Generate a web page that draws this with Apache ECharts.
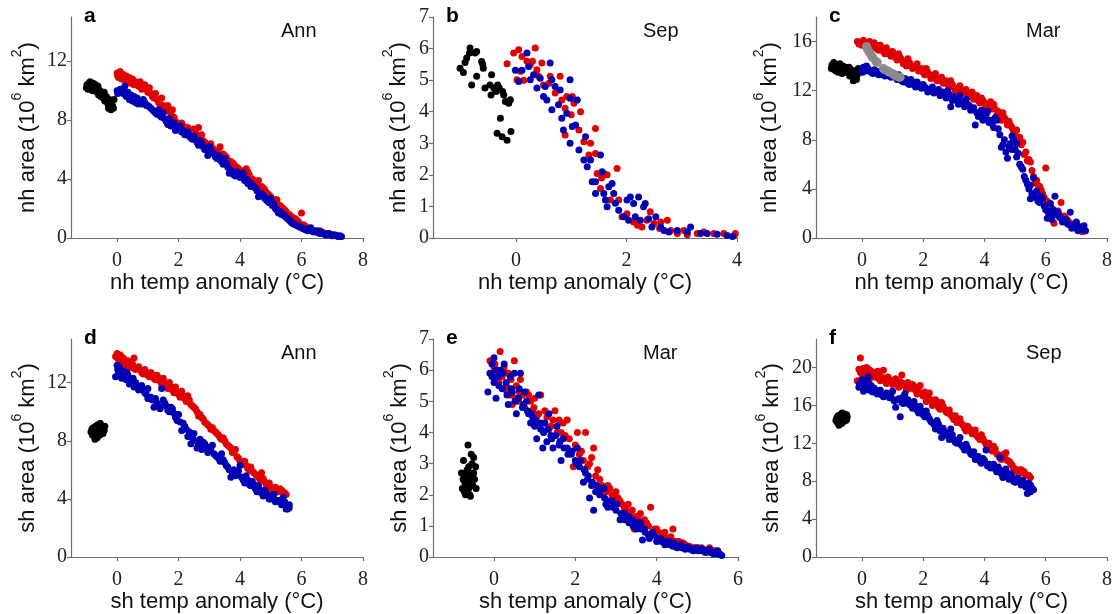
<!DOCTYPE html>
<html>
<head>
<meta charset="utf-8">
<script src="https://cdn.jsdelivr.net/npm/echarts@6/dist/echarts.min.js"></script>
<style>
html,body{margin:0;padding:0;background:#fff;}
#chart{width:1115px;height:614px;}
</style>
</head>
<body>
<div id="chart"></div>
<script>
// ---------- tick labels ----------
const ticksX8 = [0, 2, 4, 6, 8];
const ticksX4 = [0, 2, 4];
const ticksX6 = [0, 2, 4, 6];
const ticksY15 = [0, 4, 8, 12];
const ticksY7 = [0, 1, 2, 3, 4, 5, 6, 7];
const ticksY18 = [0, 4, 8, 12, 16];
const ticksY23 = [0, 4, 8, 12, 16, 20];

const panelLetters = ['a', 'b', 'c', 'd', 'e', 'f'];
const panelMonths = ['Ann', 'Sep', 'Mar', 'Ann', 'Mar', 'Sep'];
const hemis = ['nh', 'nh', 'nh', 'sh', 'sh', 'sh'];

// ---------- panel a : nh Ann ----------
const aBlack = [[-1.0,10.2],[-0.98,10.4],[-0.95,10.1],[-0.92,10.5],[-0.9,10.3],[-0.88,10.6],[-0.85,10.2],[-0.82,10.4],[-0.8,10.0],[-0.78,10.5],[-0.75,10.3],[-0.72,10.1],[-0.7,10.4],[-0.68,10.2],[-0.65,9.9],[-0.62,10.3],[-0.6,9.7],[-0.55,10.0],[-0.52,9.6],[-0.5,9.8],[-0.45,9.5],[-0.42,9.9],[-0.4,9.3],[-0.35,9.6],[-0.3,9.1],[-0.28,8.8],[-0.25,9.4],[-0.2,8.7],[-0.18,9.2],[-0.15,9.0],[-0.12,8.8],[-0.1,9.4]];
const aRed = [[0.0,11.2],[0.05,10.9],[0.1,11.3],[0.15,10.8],[0.2,11.1],[0.25,10.7],[0.3,11.0],[0.35,10.6],[0.4,10.9],[0.45,10.5],[0.5,10.8],[0.55,10.4],[0.6,10.6],[0.7,10.3],[0.75,10.6],[0.8,10.1],[0.9,10.4],[1.0,9.9],[1.05,10.2],[1.15,9.6],[1.25,9.8],[1.35,9.2],[1.45,9.5],[1.55,8.8],[1.65,9.0],[1.75,8.4],[1.8,8.7],[1.9,7.9],[2.0,7.6],[2.1,7.8],[2.2,7.3],[2.3,7.5],[2.4,7.0],[2.5,7.4],[2.6,6.9],[2.65,7.5],[2.75,7.0],[2.85,6.5],[2.95,6.2],[3.05,6.4],[3.15,6.0],[3.25,5.9],[3.35,6.2],[3.45,5.7],[3.55,5.5],[3.7,5.2],[3.8,5.0],[3.9,4.8],[4.0,4.6],[4.1,4.5],[4.2,4.7],[4.3,4.3],[4.4,4.0],[4.5,3.8],[4.6,3.9],[4.7,3.5],[4.8,3.3],[4.9,3.0],[5.0,2.8],[5.1,2.5],[5.2,2.6],[5.3,2.2],[5.4,2.0],[5.5,1.8],[5.6,1.6],[5.7,1.4],[5.8,1.3],[5.9,1.1],[6.0,1.7],[6.05,0.9],[6.2,0.7],[6.3,0.6],[6.4,0.5],[6.5,0.4],[6.6,0.5],[6.75,0.3],[6.9,0.25],[7.0,0.2],[7.1,0.15],[7.2,0.1],
  [0.02,11.0],[0.12,10.9],[0.22,10.8],[0.32,10.9],[0.42,10.6],[0.52,10.5],[0.62,10.4],[0.72,10.5],[0.82,10.3],[0.95,10.1],[1.1,9.8],[1.2,9.5],[1.3,9.4],[1.4,9.1],[1.5,9.0],[1.6,8.7],[1.7,8.6],[1.85,8.2],[1.95,7.8],[2.15,7.6],[2.35,7.2],[2.45,7.1],[2.55,7.2],[2.7,6.8],[2.8,6.6],[2.9,6.4],[3.1,6.1],[3.3,5.8],[3.5,5.6],[3.6,5.3],[3.75,5.1],[3.95,4.7],[4.15,4.3],[4.25,4.5],[4.45,3.9],[4.55,3.7],[4.75,3.4],[4.85,3.1],[4.95,2.9],[5.15,2.6],[5.35,2.1],[5.45,1.9],[5.65,1.5],[5.75,1.3],[5.85,1.2],[6.1,0.85],[6.35,0.55],[6.55,0.45],[6.85,0.3],[7.05,0.2]];
const aBlue = [[0.0,10.0],[0.05,9.9],[0.1,10.1],[0.2,9.8],[0.25,10.3],[0.3,9.6],[0.35,9.9],[0.4,9.4],[0.45,9.7],[0.5,9.3],[0.55,9.6],[0.6,9.2],[0.65,9.5],[0.7,9.3],[0.8,9.1],[0.85,9.4],[0.9,9.2],[1.0,9.0],[1.1,8.8],[1.2,8.6],[1.3,8.4],[1.35,8.7],[1.45,8.2],[1.5,8.5],[1.6,7.9],[1.7,8.1],[1.75,7.6],[1.85,7.8],[1.95,7.5],[2.05,7.6],[2.15,7.3],[2.2,7.0],[2.3,7.2],[2.4,6.8],[2.5,6.9],[2.6,6.5],[2.7,6.6],[2.8,6.2],[2.9,6.0],[2.95,5.6],[3.0,6.2],[3.1,5.8],[3.2,5.5],[3.3,5.6],[3.4,5.2],[3.5,5.4],[3.6,4.8],[3.65,4.4],[3.7,4.6],[3.8,4.3],[3.9,4.5],[4.0,4.1],[4.1,4.4],[4.2,4.0],[4.3,3.8],[4.4,3.6],[4.5,3.4],[4.6,2.8],[4.7,3.0],[4.8,2.7],[4.9,2.5],[5.0,2.7],[5.05,2.2],[5.15,2.0],[5.3,1.8],[5.4,1.6],[5.5,1.4],[5.6,1.2],[5.7,1.0],[5.8,0.9],[5.9,0.8],[6.0,0.7],[6.1,0.6],[6.2,0.5],[6.3,0.7],[6.4,0.4],[6.5,0.5],[6.6,0.3],[6.7,0.35],[6.8,0.2],[6.9,0.3],[7.0,0.15],[7.1,0.2],[7.2,0.1],[7.3,0.1],
  [0.02,9.8],[0.12,9.9],[0.18,10.0],[0.28,9.7],[0.38,9.6],[0.48,9.5],[0.58,9.4],[0.68,9.1],[0.75,9.3],[0.95,9.0],[1.05,8.9],[1.15,8.7],[1.25,8.5],[1.4,8.3],[1.55,8.1],[1.65,7.7],[1.8,7.7],[1.9,7.3],[2.0,7.5],[2.1,7.2],[2.25,7.1],[2.35,6.9],[2.45,6.7],[2.55,6.7],[2.65,6.3],[2.75,6.4],[2.85,6.0],[3.05,5.9],[3.15,5.7],[3.25,5.4],[3.35,5.3],[3.45,5.0],[3.55,5.1],[3.75,4.5],[3.85,4.2],[3.95,4.3],[4.05,4.2],[4.15,3.9],[4.25,3.7],[4.35,3.5],[4.45,3.5],[4.55,3.2],[4.65,3.0],[4.75,2.9],[4.85,2.6],[4.95,2.4],[5.1,2.3],[5.2,1.9],[5.25,1.7],[5.35,1.6],[5.45,1.5],[5.55,1.3],[5.65,1.1],[5.75,0.95],[5.85,0.85],[5.95,0.75],[6.05,0.65],[6.15,0.55],[6.25,0.6],[6.35,0.45],[6.45,0.45],[6.55,0.35],[6.65,0.4],[6.75,0.25],[6.85,0.25],[6.95,0.2],[7.05,0.2],[7.15,0.15],[7.25,0.15]];

// ---------- panel b : nh Sep ----------
const bBlack = [[-1.01,5.38],[-0.95,5.24],[-0.92,5.56],[-0.89,5.7],[-0.84,5.86],[-0.83,6.02],[-0.8,4.85],[-0.74,5.86],[-0.71,5.91],[-0.71,5.12],[-0.62,5.59],[-0.59,5.38],[-0.56,4.75],[-0.6,5.5],[-0.47,4.85],[-0.45,4.53],[-0.44,5.17],[-0.4,4.75],[-0.36,4.64],[-0.33,4.85],[-0.3,4.75],[-0.28,3.79],[-0.34,3.32],[-0.25,3.21],[-0.24,4.64],[-0.22,4.53],[-0.19,4.32],[-0.16,3.1],[-0.1,4.38],[-0.09,3.37],[-0.13,4.27]];
const bRed = [[-0.16,5.52],[-0.04,5.86],[0.02,5.01],[0.05,5.96],[0.08,5.28],[0.11,5.75],[0.14,5.0],[0.2,5.6],[0.26,5.49],[0.35,6.02],[0.38,5.33],[0.41,5.12],[0.47,5.54],[0.5,4.85],[0.62,5.12],[0.71,4.59],[0.8,5.12],[0.83,4.37],[0.89,4.11],[0.92,4.48],[0.89,3.26],[1.02,4.48],[1.05,4.27],[1.17,4.0],[1.14,3.42],[1.23,3.05],[1.32,2.63],[1.35,3.0],[1.44,3.47],[1.44,2.68],[1.47,2.04],[1.53,1.57],[1.59,2.04],[1.65,2.0],[1.83,2.2],[1.71,1.2],[1.86,1.2],[1.92,0.67],[2.01,0.77],[2.13,0.51],[2.28,0.35],[2.37,0.56],[2.43,0.83],[2.5,0.46],[2.62,0.51],[2.74,0.56],[2.8,0.24],[2.92,0.14],[3.04,0.24],[3.28,0.14],[3.4,0.19],[3.58,0.14],[3.76,0.14],[3.95,0.08],[3.97,0.14],[0.3,5.6],[0.6,4.9],[1.0,3.9],[1.55,1.9],[2.2,0.4],[2.6,0.3],[3.1,0.1]];
const bBlue = [[-0.01,5.31],[0.05,4.96],[0.11,5.31],[0.2,5.86],[0.23,5.43],[0.26,5.01],[0.32,5.17],[0.38,4.75],[0.44,5.06],[0.5,4.48],[0.53,4.8],[0.56,4.37],[0.62,5.54],[0.65,4.06],[0.65,5.01],[0.71,4.8],[0.77,4.22],[0.8,4.69],[0.83,3.79],[0.86,3.42],[0.92,3.95],[0.98,5.01],[0.98,4.43],[1.02,3.53],[1.08,3.58],[1.11,4.37],[0.98,3.0],[1.14,2.79],[1.23,2.47],[1.26,3.21],[1.29,2.26],[1.35,2.47],[1.38,1.78],[1.44,1.78],[1.44,1.41],[1.53,2.63],[1.56,2.1],[1.59,1.41],[1.62,1.2],[1.65,0.99],[1.68,1.62],[1.74,1.73],[1.77,1.41],[1.8,1.1],[1.86,0.88],[1.95,0.67],[2.01,1.2],[2.04,0.56],[2.07,1.3],[2.13,1.09],[2.16,0.67],[2.22,1.3],[2.25,0.56],[2.31,0.99],[2.34,1.09],[2.4,0.61],[2.46,0.35],[2.53,0.67],[2.62,0.35],[2.68,0.24],[2.77,0.19],[2.92,0.24],[3.1,0.19],[3.16,0.35],[3.34,0.14],[3.46,0.14],[3.64,0.12],[3.82,0.08],[3.92,0.05]];

// ---------- panel c : nh Mar ----------
const cBlack = [[-1.0,13.8],[-0.98,14.1],[-0.95,13.9],[-0.92,14.3],[-0.9,13.7],[-0.88,14.0],[-0.85,13.6],[-0.82,14.1],[-0.8,13.8],[-0.78,13.5],[-0.75,13.9],[-0.72,14.2],[-0.7,13.6],[-0.68,13.8],[-0.65,13.4],[-0.62,14.0],[-0.6,13.7],[-0.55,13.9],[-0.52,13.5],[-0.5,13.8],[-0.45,13.6],[-0.42,13.9],[-0.4,13.2],[-0.35,13.7],[-0.3,13.4],[-0.28,12.8],[-0.25,13.6],[-0.2,13.0],[-0.18,12.9],[-0.15,13.3],[-0.12,13.8]];
const cRed = [[-0.15,16.0],[-0.05,15.9],[0.05,16.1],[0.15,15.8],[0.25,16.0],[0.3,15.6],[0.4,15.9],[0.5,15.4],[0.6,15.7],[0.7,15.2],[0.8,15.5],[0.9,15.0],[1.0,15.2],[1.1,14.7],[1.2,15.0],[1.3,14.5],[1.4,14.3],[1.5,14.6],[1.6,14.1],[1.7,13.9],[1.8,14.2],[1.9,13.7],[2.0,13.5],[2.1,13.8],[2.2,13.3],[2.3,13.1],[2.4,13.4],[2.5,12.9],[2.6,13.1],[2.7,12.7],[2.8,12.5],[2.9,12.8],[3.0,12.3],[3.1,12.1],[3.2,12.4],[3.3,11.9],[3.4,12.1],[3.5,11.7],[3.6,11.9],[3.7,11.5],[3.8,11.2],[3.9,11.4],[4.0,11.0],[4.1,10.8],[4.2,11.1],[4.25,10.5],[4.3,10.9],[4.4,10.0],[4.5,9.8],[4.6,10.2],[4.7,9.6],[4.75,9.2],[4.8,9.5],[4.9,9.0],[5.0,8.4],[5.05,8.8],[5.1,8.0],[5.2,7.6],[5.25,7.8],[5.3,6.8],[5.4,6.3],[5.5,6.2],[5.6,5.0],[5.65,4.5],[5.7,4.7],[5.8,4.2],[5.9,3.6],[6.0,5.7],[6.05,3.0],[6.1,2.8],[6.2,2.4],[6.3,2.0],[6.4,2.2],[6.5,2.9],[6.6,1.8],[6.7,1.5],[6.8,1.2],[6.9,1.0],[7.0,0.8],[7.1,0.9],[7.2,0.5],[6.27,1.2],
  [-0.1,15.8],[0.0,15.7],[0.1,15.9],[0.2,15.7],[0.35,15.5],[0.45,15.7],[0.55,15.3],[0.65,15.4],[0.75,15.0],[0.85,15.2],[0.95,14.8],[1.05,14.9],[1.15,14.5],[1.25,14.7],[1.35,14.2],[1.45,14.0],[1.55,14.3],[1.65,13.8],[1.75,14.0],[1.85,13.6],[1.95,13.8],[2.05,13.3],[2.15,13.5],[2.25,13.0],[2.35,13.2],[2.45,12.8],[2.55,13.0],[2.65,12.6],[2.75,12.8],[2.85,12.3],[2.95,12.5],[3.05,12.0],[3.15,12.2],[3.25,11.8],[3.35,12.0],[3.45,11.6],[3.55,11.5],[3.65,11.3],[3.75,11.6],[3.85,11.0],[3.95,11.2],[4.05,10.7],[4.15,10.9],[4.35,10.5],[4.45,10.3],[4.55,9.6],[4.65,9.8],[4.85,9.2],[4.95,8.7],[5.15,8.2],[5.35,7.0],[5.45,6.4],[5.55,5.5],[5.75,4.3],[5.85,3.9],[5.95,3.3],[6.15,2.6],[6.25,2.2],[6.45,1.9],[6.55,1.6],[6.65,1.6],[6.75,1.3],[6.85,1.1],[6.95,0.9],[7.05,1.0],[7.15,0.6]];
const cBlue = [[0.0,13.7],[0.05,13.9],[0.1,13.6],[0.15,14.0],[0.2,13.8],[0.3,13.5],[0.4,13.7],[0.5,13.4],[0.6,13.6],[0.7,13.3],[0.8,13.5],[0.9,13.2],[1.0,13.4],[1.1,13.1],[1.2,13.3],[1.3,12.8],[1.4,13.0],[1.5,12.6],[1.6,12.9],[1.7,12.5],[1.8,12.7],[1.9,12.3],[2.0,12.5],[2.1,12.2],[2.2,12.0],[2.3,12.3],[2.4,11.9],[2.5,12.1],[2.6,11.8],[2.7,11.6],[2.8,12.0],[2.9,10.7],[3.0,11.5],[3.1,11.2],[3.2,11.6],[3.3,11.0],[3.4,11.3],[3.5,10.8],[3.6,10.5],[3.7,9.2],[3.75,10.2],[3.8,9.9],[3.9,10.4],[4.0,9.7],[4.1,10.3],[4.15,9.4],[4.2,9.6],[4.3,9.0],[4.4,9.6],[4.5,8.4],[4.55,7.4],[4.6,7.6],[4.7,7.0],[4.75,6.5],[4.8,7.5],[4.9,8.3],[4.95,8.0],[5.0,7.2],[5.05,7.7],[5.1,6.9],[5.15,6.0],[5.2,5.8],[5.3,5.0],[5.4,4.4],[5.45,4.0],[5.5,3.2],[5.55,3.6],[5.6,4.9],[5.65,3.3],[5.7,3.8],[5.8,2.9],[5.9,3.2],[6.0,2.3],[6.05,1.6],[6.1,2.0],[6.15,2.8],[6.2,1.5],[6.3,3.4],[6.35,1.9],[6.4,2.1],[6.5,1.6],[6.6,1.4],[6.7,1.2],[6.8,2.1],[6.85,0.8],[6.9,1.0],[7.0,1.3],[7.05,0.6],[7.1,0.9],[7.2,0.8],[7.3,0.6],
  [0.02,13.5],[0.12,13.8],[0.25,13.6],[0.35,13.4],[0.45,13.6],[0.55,13.3],[0.65,13.5],[0.75,13.2],[0.85,13.3],[0.95,13.1],[1.05,13.2],[1.15,12.9],[1.25,13.1],[1.35,12.7],[1.45,12.9],[1.55,12.5],[1.65,12.7],[1.75,12.3],[1.85,12.5],[1.95,12.2],[2.05,12.3],[2.15,11.9],[2.25,12.1],[2.35,11.8],[2.45,12.0],[2.55,11.6],[2.65,11.9],[2.75,11.4],[2.85,11.7],[2.95,11.2],[3.05,11.3],[3.15,10.9],[3.25,11.1],[3.35,10.7],[3.45,10.9],[3.55,10.4],[3.65,10.6],[3.85,10.1],[3.95,9.6],[4.05,10.0],[4.25,9.3],[4.35,9.8],[4.45,8.9],[4.65,8.0],[4.85,7.7],[4.9,7.2],[5.05,6.6],[5.25,5.6],[5.35,4.7],[5.5,4.3],[5.6,3.5],[5.75,3.0],[5.85,3.4],[5.95,2.6],[6.05,2.2],[6.15,1.8],[6.25,2.3],[6.45,1.7],[6.55,1.3],[6.65,1.5],[6.75,1.1],[6.95,1.1],[7.15,0.7],[7.25,1.0]];
const cGray = [[0.15,15.6],[0.18,15.4],[0.2,15.3],[0.25,15.1],[0.3,14.9],[0.35,14.7],[0.45,14.4],[0.5,14.3],[0.7,13.8],[0.75,13.7],[0.85,13.6],[0.9,13.5],[1.0,13.4],[1.05,13.3],[1.1,13.2],[1.2,13.1],[1.25,13.1]];

// ---------- panel d : sh Ann ----------
const dBlack = [[-0.85,8.6],[-0.82,8.8],[-0.8,8.4],[-0.78,8.9],[-0.75,8.5],[-0.73,8.7],[-0.7,8.3],[-0.7,9.0],[-0.68,8.6],[-0.66,8.8],[-0.65,8.2],[-0.63,9.1],[-0.62,8.5],[-0.6,8.9],[-0.58,8.7],[-0.56,8.4],[-0.55,9.2],[-0.53,8.6],[-0.5,8.8],[-0.48,9.0],[-0.46,8.5],[-0.44,8.9],[-0.42,8.7],[-0.4,9.0],[-0.72,8.1]];
const dRed = [[-0.05,13.8],[0.0,14.0],[0.05,13.6],[0.1,13.9],[0.15,13.4],[0.2,13.7],[0.3,13.3],[0.35,13.5],[0.4,13.1],[0.5,13.3],[0.55,13.7],[0.6,12.9],[0.7,13.1],[0.8,12.7],[0.9,12.9],[1.0,12.5],[1.1,12.7],[1.2,12.3],[1.3,12.5],[1.4,12.1],[1.5,12.3],[1.6,11.8],[1.7,12.0],[1.8,11.5],[1.9,11.7],[2.0,11.2],[2.1,11.4],[2.2,10.9],[2.3,11.1],[2.4,10.5],[2.5,10.3],[2.6,10.0],[2.7,9.8],[2.8,9.5],[2.9,9.2],[3.0,9.0],[3.1,8.9],[3.2,8.6],[3.3,8.4],[3.4,8.1],[3.5,8.0],[3.6,7.7],[3.7,7.5],[3.8,7.3],[3.9,6.9],[4.0,6.6],[4.1,6.4],[4.2,6.3],[4.3,6.0],[4.4,5.9],[4.5,5.7],[4.6,5.5],[4.7,5.8],[4.8,5.2],[4.9,4.9],[5.0,4.8],[5.1,4.7],[5.2,4.6],[5.3,4.7],[5.4,4.5],[5.5,4.3],
  [0.02,13.7],[0.12,13.6],[0.25,13.5],[0.32,13.2],[0.45,13.2],[0.52,13.0],[0.65,13.0],[0.75,12.9],[0.85,12.6],[0.95,12.7],[1.05,12.4],[1.15,12.5],[1.25,12.2],[1.35,12.3],[1.45,11.9],[1.55,12.0],[1.65,11.6],[1.75,11.7],[1.85,11.3],[1.95,11.4],[2.05,11.0],[2.15,11.1],[2.25,10.7],[2.35,10.8],[2.45,10.4],[2.55,10.2],[2.65,9.7],[2.75,9.6],[2.85,9.3],[2.95,9.1],[3.05,8.8],[3.15,8.7],[3.25,8.5],[3.35,8.2],[3.45,8.2],[3.55,7.8],[3.65,7.6],[3.75,7.2],[3.85,7.4],[3.95,6.8],[4.05,6.5],[4.15,6.6],[4.25,6.1],[4.35,6.2],[4.45,5.8],[4.55,5.6],[4.65,5.3],[4.75,5.4],[4.85,5.0],[4.95,5.1],[5.05,4.6],[5.15,4.8],[5.25,4.5],[5.35,4.6],[5.45,4.4]];
const dBlue = [[-0.05,12.4],[0.0,13.2],[0.05,12.7],[0.1,13.0],[0.15,12.3],[0.2,12.8],[0.3,12.2],[0.35,12.5],[0.4,11.9],[0.5,12.2],[0.55,11.7],[0.6,12.0],[0.7,11.5],[0.8,11.8],[0.9,11.3],[1.0,11.6],[1.05,10.9],[1.1,11.0],[1.2,10.3],[1.3,10.6],[1.4,10.2],[1.45,11.6],[1.5,10.8],[1.6,10.4],[1.7,10.0],[1.8,10.2],[1.9,9.6],[2.0,9.8],[2.05,9.3],[2.1,8.7],[2.2,9.0],[2.3,8.3],[2.4,7.8],[2.5,8.5],[2.6,7.5],[2.7,8.1],[2.8,7.9],[2.9,7.6],[3.0,7.3],[3.1,7.7],[3.2,7.0],[3.3,6.8],[3.4,7.1],[3.5,6.5],[3.6,6.2],[3.7,5.5],[3.8,6.0],[3.9,5.7],[4.0,6.3],[4.1,5.3],[4.2,5.6],[4.3,5.0],[4.4,5.2],[4.5,4.7],[4.6,4.9],[4.7,4.4],[4.8,4.6],[4.9,4.2],[5.0,4.0],[5.1,4.3],[5.2,3.9],[5.3,3.8],[5.4,4.1],[5.45,3.6],[5.5,3.5],[5.55,3.3],[5.6,3.4],
  [0.02,12.9],[0.12,12.6],[0.25,12.4],[0.32,12.7],[0.45,12.0],[0.52,12.3],[0.65,11.8],[0.75,11.6],[0.85,11.5],[0.95,11.2],[1.0,10.9],[1.15,10.8],[1.25,10.9],[1.35,10.4],[1.55,10.6],[1.65,10.1],[1.75,10.3],[1.85,9.9],[1.95,9.4],[2.15,9.2],[2.25,8.8],[2.35,8.6],[2.45,8.2],[2.55,8.0],[2.65,7.7],[2.75,7.4],[2.85,7.8],[2.95,7.2],[3.05,7.5],[3.15,7.1],[3.25,6.9],[3.35,6.6],[3.45,6.7],[3.55,6.3],[3.65,6.0],[3.75,5.8],[3.85,5.6],[3.95,5.9],[4.05,5.5],[4.15,5.1],[4.25,5.3],[4.35,4.9],[4.45,5.0],[4.55,4.5],[4.65,4.6],[4.75,4.2],[4.85,4.4],[4.95,4.0],[5.05,4.2],[5.15,3.8],[5.25,3.9],[5.35,3.6],[5.45,3.8],[5.5,3.3],[5.6,3.6]];

// ---------- panel e : sh Mar ----------
const eBlack = [[-0.8,2.7],[-0.78,2.2],[-0.76,2.5],[-0.75,3.1],[-0.73,2.1],[-0.72,2.4],[-0.7,2.6],[-0.7,2.0],[-0.68,2.3],[-0.66,2.8],[-0.65,2.5],[-0.64,3.6],[-0.62,2.2],[-0.6,2.7],[-0.6,2.0],[-0.58,1.95],[-0.57,2.4],[-0.56,3.3],[-0.55,2.6],[-0.54,3.0],[-0.52,2.3],[-0.5,2.7],[-0.5,3.2],[-0.48,2.5],[-0.45,2.9],[-0.44,2.2],[-0.62,2.9],[-0.68,2.45]];
const eRed = [[-0.1,6.3],[-0.05,5.9],[0.0,6.1],[0.05,5.7],[0.1,6.0],[0.15,6.6],[0.2,5.8],[0.25,6.1],[0.3,5.5],[0.35,5.9],[0.4,5.2],[0.45,4.9],[0.5,6.3],[0.55,5.5],[0.6,5.0],[0.65,5.7],[0.7,5.2],[0.75,4.8],[0.8,5.3],[0.9,5.0],[0.95,4.7],[1.0,5.1],[1.1,4.6],[1.15,5.2],[1.2,4.3],[1.3,4.5],[1.4,4.2],[1.5,4.7],[1.55,4.0],[1.6,4.4],[1.7,4.3],[1.8,4.4],[1.85,3.8],[1.9,3.4],[1.95,2.9],[2.0,3.6],[2.05,4.0],[2.1,3.3],[2.2,3.1],[2.25,4.0],[2.3,2.9],[2.4,3.2],[2.45,3.5],[2.5,2.6],[2.6,2.5],[2.7,2.2],[2.8,2.3],[2.9,2.0],[3.0,2.1],[3.1,1.8],[3.2,1.6],[3.3,1.7],[3.4,1.5],[3.45,0.9],[3.5,1.3],[3.6,1.4],[3.7,1.2],[3.8,1.0],[3.85,1.6],[3.9,0.8],[4.0,0.9],[4.1,0.7],[4.2,0.8],[4.3,0.6],[4.4,0.9],[4.5,0.5],[4.6,0.45],[4.7,0.4],[4.8,0.35],[4.9,0.3],[5.0,0.25],[5.1,0.3],[5.2,0.2],[5.3,0.3],[5.4,0.2],[5.5,0.15],
  [0.02,6.2],[0.12,5.6],[0.22,6.0],[0.32,5.3],[0.42,5.7],[0.52,5.1],[0.62,5.3],[0.72,4.9],[0.85,5.2],[0.98,4.8],[1.05,4.5],[1.25,4.7],[1.35,4.1],[1.45,4.4],[1.65,4.0],[1.75,3.9],[2.15,3.4],[2.35,3.0],[2.55,2.8],[2.65,2.3],[2.75,2.1],[2.85,2.2],[2.95,1.9],[3.05,1.9],[3.15,1.7],[3.25,1.5],[3.35,1.4],[3.55,1.2],[3.65,1.0],[3.75,1.1],[3.95,0.9],[4.05,0.8],[4.15,0.7],[4.25,0.6],[4.35,0.65],[4.45,0.5],[4.55,0.5],[4.65,0.45],[4.75,0.35],[4.85,0.3],[4.95,0.3],[5.05,0.25],[5.15,0.25],[5.25,0.2],[5.35,0.2],[5.45,0.2]];
const eBlue = [[-0.15,5.3],[-0.1,5.9],[-0.05,6.2],[0.0,6.4],[0.0,5.6],[0.05,5.1],[0.1,5.8],[0.15,6.0],[0.2,5.4],[0.25,6.2],[0.3,5.6],[0.35,4.9],[0.4,5.8],[0.45,5.3],[0.5,5.9],[0.55,4.6],[0.6,5.1],[0.65,5.9],[0.7,4.8],[0.75,5.3],[0.8,5.0],[0.85,4.6],[0.9,4.3],[0.95,4.5],[1.0,4.2],[1.05,3.8],[1.1,5.2],[1.15,4.1],[1.2,3.5],[1.25,4.3],[1.3,3.7],[1.35,4.6],[1.4,3.9],[1.45,3.5],[1.55,4.2],[1.6,3.6],[1.65,3.1],[1.7,3.8],[1.8,3.5],[1.9,3.3],[2.0,3.1],[2.05,3.5],[2.1,2.9],[2.2,2.4],[2.25,2.7],[2.3,2.5],[2.35,1.9],[2.4,2.3],[2.45,1.5],[2.5,2.1],[2.6,2.0],[2.7,2.2],[2.75,1.7],[2.8,1.6],[2.9,1.8],[3.0,1.5],[3.1,1.2],[3.2,1.4],[3.3,1.3],[3.4,1.2],[3.5,0.9],[3.6,1.1],[3.65,0.55],[3.7,0.9],[3.8,0.7],[3.9,0.8],[4.0,0.5],[4.1,0.6],[4.2,0.4],[4.3,0.5],[4.4,0.35],[4.5,0.3],[4.6,0.4],[4.7,0.25],[4.8,0.3],[4.9,0.2],[5.0,0.3],[5.1,0.2],[5.2,0.15],[5.3,0.25],[5.4,0.1],[5.5,0.2],[5.55,0.1],[5.6,0.05],
  [-0.05,5.8],[0.05,6.0],[0.12,5.5],[0.22,5.9],[0.32,5.2],[0.42,5.4],[0.52,5.0],[0.62,5.4],[0.72,4.9],[0.82,4.7],[0.92,4.6],[1.02,4.4],[1.12,4.3],[1.22,4.0],[1.32,4.1],[1.42,3.8],[1.52,3.9],[1.62,3.7],[1.72,3.5],[1.82,3.3],[1.92,3.4],[2.02,3.0],[2.12,3.1],[2.22,2.8],[2.32,2.6],[2.42,2.4],[2.52,2.3],[2.62,2.2],[2.72,1.9],[2.82,1.8],[2.92,1.6],[3.02,1.7],[3.12,1.4],[3.22,1.2],[3.32,1.1],[3.42,1.0],[3.52,1.1],[3.62,0.9],[3.72,0.8],[3.82,0.6],[3.92,0.7],[4.02,0.6],[4.12,0.5],[4.22,0.5],[4.32,0.4],[4.42,0.45],[4.52,0.35],[4.62,0.3],[4.72,0.3],[4.82,0.25],[4.92,0.25],[5.02,0.2],[5.12,0.25],[5.22,0.2],[5.32,0.15],[5.42,0.15],[5.52,0.1]];

// ---------- panel f : sh Sep ----------
const fBlack = [[-0.85,14.4],[-0.82,14.7],[-0.8,14.2],[-0.78,14.9],[-0.76,14.5],[-0.75,13.9],[-0.73,14.6],[-0.7,14.3],[-0.7,15.0],[-0.68,14.7],[-0.66,14.1],[-0.65,15.2],[-0.63,14.5],[-0.62,14.8],[-0.6,14.3],[-0.58,15.1],[-0.56,14.6],[-0.55,14.9],[-0.53,14.4],[-0.5,15.0],[-0.5,14.5],[-0.48,14.8]];
const fRed = [[-0.15,18.6],[-0.1,19.8],[-0.05,21.0],[0.0,19.3],[0.05,19.9],[0.1,19.0],[0.15,20.0],[0.2,19.4],[0.25,18.8],[0.3,19.6],[0.35,19.1],[0.4,19.5],[0.5,18.9],[0.55,19.3],[0.6,18.6],[0.7,19.7],[0.75,18.9],[0.8,18.3],[0.9,18.7],[1.0,18.2],[1.1,18.8],[1.2,17.9],[1.3,19.2],[1.35,18.3],[1.45,17.6],[1.5,18.4],[1.6,17.8],[1.7,18.0],[1.8,17.2],[1.9,18.1],[2.0,17.0],[2.1,16.4],[2.2,17.3],[2.3,16.0],[2.4,16.6],[2.5,15.8],[2.6,16.3],[2.7,15.6],[2.8,15.2],[2.9,15.0],[3.0,14.5],[3.1,14.2],[3.2,14.6],[3.3,13.9],[3.4,13.3],[3.5,13.6],[3.6,13.0],[3.7,13.4],[3.8,12.6],[3.9,12.9],[4.0,12.2],[4.1,11.8],[4.2,11.5],[4.3,11.7],[4.4,10.9],[4.5,10.6],[4.6,10.8],[4.7,11.0],[4.8,10.1],[4.9,9.7],[5.0,9.3],[5.1,8.9],[5.2,9.2],[5.3,9.0],[5.4,8.6],[5.5,8.4],
  [-0.05,19.5],[0.02,19.7],[0.12,19.4],[0.22,19.8],[0.32,19.0],[0.45,19.2],[0.52,19.6],[0.62,19.0],[0.72,18.8],[0.85,19.0],[0.95,18.5],[1.05,18.6],[1.15,18.3],[1.25,18.5],[1.4,18.1],[1.55,17.8],[1.65,18.2],[1.75,17.6],[1.85,17.5],[1.95,17.2],[2.05,17.4],[2.15,16.8],[2.25,16.6],[2.35,16.2],[2.45,16.4],[2.55,15.6],[2.65,15.9],[2.75,15.3],[2.85,15.5],[2.95,14.8],[3.05,14.9],[3.15,14.4],[3.25,14.1],[3.35,13.6],[3.45,13.8],[3.55,13.3],[3.65,13.0],[3.75,12.8],[3.85,12.4],[3.95,12.5],[4.05,11.9],[4.15,12.0],[4.25,11.2],[4.35,11.4],[4.45,10.8],[4.55,10.3],[4.65,10.5],[4.75,10.2],[4.85,9.9],[4.95,9.4],[5.05,9.1],[5.15,9.2],[5.25,8.9],[5.35,8.7],[5.45,8.6]];
const fBlue = [[-0.1,17.9],[-0.05,18.3],[0.0,18.7],[0.05,17.5],[0.1,18.4],[0.15,18.0],[0.2,19.0],[0.25,17.6],[0.3,18.1],[0.35,17.4],[0.4,17.8],[0.5,17.2],[0.6,17.6],[0.7,16.9],[0.8,17.3],[0.9,16.8],[1.0,17.5],[1.05,16.5],[1.1,15.8],[1.2,16.7],[1.25,14.8],[1.3,16.3],[1.4,17.2],[1.5,16.6],[1.6,16.0],[1.7,16.4],[1.8,15.5],[1.9,15.9],[2.0,15.0],[2.1,15.4],[2.2,14.6],[2.3,14.2],[2.4,13.5],[2.5,14.0],[2.6,12.6],[2.7,13.2],[2.8,12.8],[2.9,13.5],[3.0,12.4],[3.1,12.0],[3.2,12.6],[3.3,11.6],[3.4,11.9],[3.5,11.2],[3.6,10.8],[3.7,10.3],[3.8,10.6],[3.9,9.9],[4.0,10.2],[4.05,11.3],[4.1,9.6],[4.2,9.4],[4.3,9.8],[4.4,9.0],[4.5,10.5],[4.55,8.8],[4.6,8.4],[4.7,9.3],[4.8,8.2],[4.9,8.5],[5.0,7.9],[5.1,8.3],[5.2,7.6],[5.3,7.8],[5.4,6.7],[5.45,7.2],[5.5,7.6],[5.6,7.1],
  [-0.08,18.2],[0.02,18.0],[0.12,17.8],[0.22,18.3],[0.32,17.7],[0.45,17.6],[0.55,17.4],[0.65,17.1],[0.75,17.0],[0.85,17.2],[0.95,16.9],[1.15,16.6],[1.3,16.8],[1.35,16.2],[1.45,16.4],[1.55,16.1],[1.65,15.7],[1.75,15.9],[1.85,15.2],[1.95,15.4],[2.05,14.8],[2.15,14.9],[2.25,14.3],[2.35,14.0],[2.45,14.4],[2.55,13.3],[2.65,13.6],[2.75,13.0],[2.85,12.4],[2.95,12.9],[3.05,12.1],[3.15,12.3],[3.25,11.8],[3.35,11.3],[3.45,11.5],[3.55,10.9],[3.65,11.1],[3.75,10.5],[3.85,10.1],[3.95,10.4],[4.15,9.8],[4.25,9.6],[4.35,9.3],[4.45,9.5],[4.55,9.1],[4.65,8.9],[4.75,8.6],[4.85,8.8],[4.95,8.0],[5.05,8.2],[5.15,7.9],[5.25,8.1],[5.35,7.4],[5.45,7.8],[5.5,6.9],[5.55,7.3]];

// ---------- layout / styling ----------
const SANS = "'Liberation Sans', Arial, Helvetica, sans-serif";
const SERIF = "'Liberation Serif', 'Times New Roman', serif";
const RED = '#e10000', BLUE = '#0000b4', BLACK = '#000000', GRAY = '#8a8a8a';
const AXIS_COLOR = '#6e6e6e';

const panels = [
  {grid:{left:71, top:17, width:292, height:221}, xMax:8, xTicks:ticksX8, yMax:15, yTicks:ticksY15, yGap:32, sets:[[aBlack,BLACK],[aRed,RED],[aBlue,BLUE]]},
  {grid:{left:433, top:17, width:304, height:221}, xMax:4, xTicks:ticksX4, yMax:7, yTicks:ticksY7, yGap:23, sets:[[bBlack,BLACK],[bRed,RED],[bBlue,BLUE]]},
  {grid:{left:816, top:17, width:292, height:221}, xMax:8, xTicks:ticksX8, yMax:18, yTicks:ticksY18, yGap:35, sets:[[cBlack,BLACK],[cRed,RED],[cBlue,BLUE],[cGray,GRAY]]},
  {grid:{left:71, top:339, width:292, height:219}, xMax:8, xTicks:ticksX8, yMax:15, yTicks:ticksY15, yGap:32, sets:[[dBlack,BLACK],[dRed,RED],[dBlue,BLUE]]},
  {grid:{left:433, top:339, width:305, height:219}, xMax:6, xTicks:ticksX6, yMax:7, yTicks:ticksY7, yGap:22, sets:[[eBlack,BLACK],[eRed,RED],[eBlue,BLUE]]},
  {grid:{left:816, top:339, width:292, height:219}, xMax:8, xTicks:ticksX8, yMax:23, yTicks:ticksY23, yGap:33, sets:[[fBlack,BLACK],[fRed,RED],[fBlue,BLUE]]}
];

const grids = [], xAxes = [], yAxes = [], series = [], graphics = [];
panels.forEach((p, i) => {
  grids.push(Object.assign({containLabel:false}, p.grid));
  xAxes.push({
    type:'value', gridIndex:i, min:-1.5, max:p.xMax,
    name: hemis[i] + ' temp anomaly (°C)', nameLocation:'middle', nameGap:26,
    nameTextStyle:{fontFamily:SANS, fontSize:22, color:'#111'},
    axisLine:{show:true, onZero:false, lineStyle:{color:AXIS_COLOR, width:1.2}},
    axisTick:{show:true, length:4, customValues:p.xTicks, lineStyle:{color:AXIS_COLOR, width:1.2}},
    axisLabel:{customValues:p.xTicks, fontFamily:SERIF, fontSize:20, color:'#222', margin:13},
    splitLine:{show:false}
  });
  yAxes.push({
    type:'value', gridIndex:i, min:0, max:p.yMax,
    name: '{m|' + hemis[i] + ' area (10}{s|6}{m| km}{s|2}{m|)}',
    nameLocation:'middle', nameGap:p.yGap, nameRotate:90,
    nameTextStyle:{fontFamily:SANS, fontSize:22, color:'#111',
      rich:{
        m:{fontFamily:SANS, fontSize:22, lineHeight:22, color:'#111', verticalAlign:'bottom'},
        s:{fontFamily:SANS, fontSize:14, lineHeight:14, color:'#111', verticalAlign:'bottom', padding:[0,0,15,0]}
      }},
    axisLine:{show:true, onZero:false, lineStyle:{color:AXIS_COLOR, width:1.2}},
    axisTick:{show:true, length:4, customValues:p.yTicks, lineStyle:{color:AXIS_COLOR, width:1.2}},
    axisLabel:{customValues:p.yTicks, fontFamily:SERIF, fontSize:20, color:'#222', margin:4},
    splitLine:{show:false}
  });
  p.sets.forEach(([data, color]) => {
    series.push({
      type:'scatter', xAxisIndex:i, yAxisIndex:i, data:data,
      symbol:'circle', symbolSize: color === GRAY ? 9 : 7,
      itemStyle:{color:color, opacity:1},
      emphasis:{disabled:true}, silent:true, clip:false
    });
  });
  graphics.push({type:'text', x: p.grid.left + 13, y: p.grid.top - 1,
    style:{text:panelLetters[i], font:"bold 21px " + SANS, fill:'#000', verticalAlign:'middle'}});
  graphics.push({type:'text', x: p.grid.left + 210, y: p.grid.top + 14.5,
    style:{text:panelMonths[i], font:"20px " + SANS, fill:'#111', verticalAlign:'middle'}});
});

const chart = echarts.init(document.getElementById('chart'), null, {renderer:'canvas'});
chart.setOption({
  animation:false,
  backgroundColor:'#ffffff',
  grid:grids, xAxis:xAxes, yAxis:yAxes, series:series,
  graphic:{elements:graphics}
});
</script>
</body>
</html>
